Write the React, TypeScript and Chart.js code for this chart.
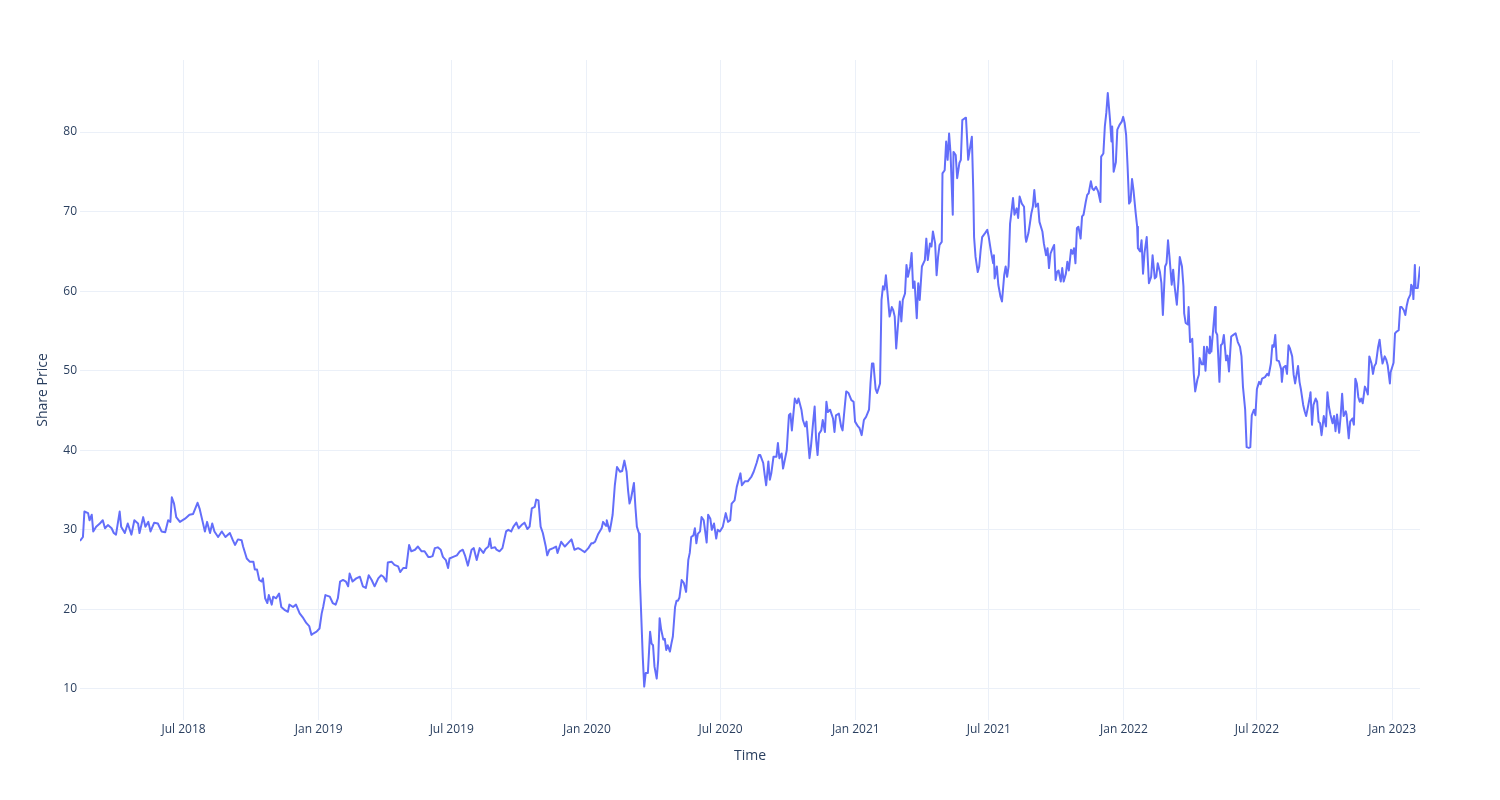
import React, { useEffect, useRef } from "react";
import { Chart, registerables } from "chart.js";

Chart.register(...registerables);

const TEXT_COLOR = "#2a3f5f";
const GRID_COLOR = "#EBF0F8";
const LINE_COLOR = "#636efa";
const FONT_FAMILY = "'Open Sans', verdana, arial, sans-serif";

const xAxisTitle = "Time";
const yAxisTitle = "Share Price";

const xTickDates = [
  "2018-07-01", "2019-01-01", "2019-07-01", "2020-01-01", "2020-07-01",
  "2021-01-01", "2021-07-01", "2022-01-01", "2022-07-01", "2023-01-01",
];
const xTickLabels = [
  "Jul 2018", "Jan 2019", "Jul 2019", "Jan 2020", "Jul 2020",
  "Jan 2021", "Jul 2021", "Jan 2022", "Jul 2022", "Jan 2023",
];
const yTickValues = [10, 20, 30, 40, 50, 60, 70, 80];
const xRange = ["2018-02-10", "2023-02-08"];
const yRange = [6.1, 89.05];

const prices2018: [string, number][] = [
  ["2018-02-10", 28.6], ["2018-02-14", 29.1], ["2018-02-16", 32.3], ["2018-02-21", 32.1], ["2018-02-23", 31.2],
  ["2018-02-26", 31.9], ["2018-02-28", 29.8], ["2018-03-04", 30.4], ["2018-03-09", 30.8], ["2018-03-13", 31.2],
  ["2018-03-16", 30.2], ["2018-03-20", 30.6], ["2018-03-25", 30.2], ["2018-03-28", 29.6], ["2018-03-31", 29.4],
  ["2018-04-05", 32.3], ["2018-04-07", 30.4], ["2018-04-12", 29.6], ["2018-04-16", 30.8], ["2018-04-21", 29.4],
  ["2018-04-25", 31.2], ["2018-04-30", 30.8], ["2018-05-02", 29.6], ["2018-05-07", 31.6], ["2018-05-10", 30.4],
  ["2018-05-14", 31.0], ["2018-05-17", 29.8], ["2018-05-22", 30.9], ["2018-05-27", 30.8], ["2018-06-01", 29.8],
  ["2018-06-06", 29.7], ["2018-06-10", 31.2], ["2018-06-13", 31.0], ["2018-06-15", 34.1], ["2018-06-18", 33.3],
  ["2018-06-21", 31.6], ["2018-06-26", 31.0], ["2018-07-03", 31.4], ["2018-07-09", 31.9], ["2018-07-14", 32.0],
  ["2018-07-20", 33.4], ["2018-07-23", 32.6], ["2018-07-27", 31.0], ["2018-07-30", 29.8], ["2018-08-02", 31.0],
  ["2018-08-06", 29.6], ["2018-08-09", 30.8], ["2018-08-12", 29.8], ["2018-08-17", 29.1], ["2018-08-22", 29.8],
  ["2018-08-27", 29.1], ["2018-09-02", 29.6], ["2018-09-06", 28.7], ["2018-09-09", 28.1], ["2018-09-13", 28.8],
  ["2018-09-18", 28.7], ["2018-09-20", 27.9], ["2018-09-25", 26.4], ["2018-09-29", 26.0], ["2018-10-04", 26.0],
  ["2018-10-06", 25.0], ["2018-10-09", 25.0], ["2018-10-12", 23.7], ["2018-10-15", 23.5], ["2018-10-17", 23.9],
  ["2018-10-20", 21.4], ["2018-10-23", 20.8], ["2018-10-25", 21.8], ["2018-10-29", 20.6], ["2018-10-31", 21.6],
  ["2018-11-04", 21.4], ["2018-11-08", 22.0], ["2018-11-11", 20.3], ["2018-11-16", 19.9], ["2018-11-20", 19.7],
  ["2018-11-22", 20.6], ["2018-11-27", 20.3], ["2018-12-01", 20.6], ["2018-12-06", 19.5], ["2018-12-11", 18.9],
  ["2018-12-15", 18.3], ["2018-12-19", 17.9], ["2018-12-22", 16.8], ["2018-12-25", 17.0], ["2018-12-29", 17.2],
];

const prices2019: [string, number][] = [
  ["2019-01-02", 17.6], ["2019-01-05", 19.5], ["2019-01-07", 20.3], ["2019-01-10", 21.8], ["2019-01-16", 21.6],
  ["2019-01-20", 20.8], ["2019-01-24", 20.6], ["2019-01-27", 21.4], ["2019-01-30", 23.5], ["2019-02-03", 23.7],
  ["2019-02-07", 23.5], ["2019-02-10", 22.9], ["2019-02-12", 24.5], ["2019-02-16", 23.5], ["2019-02-21", 23.9],
  ["2019-02-26", 24.1], ["2019-03-02", 22.9], ["2019-03-06", 22.7], ["2019-03-10", 24.3], ["2019-03-14", 23.7],
  ["2019-03-18", 22.9], ["2019-03-23", 23.9], ["2019-03-27", 24.3], ["2019-03-30", 24.1], ["2019-04-03", 23.5],
  ["2019-04-05", 25.9], ["2019-04-10", 26.0], ["2019-04-14", 25.6], ["2019-04-19", 25.4], ["2019-04-22", 24.7],
  ["2019-04-26", 25.2], ["2019-04-30", 25.2], ["2019-05-04", 28.1], ["2019-05-07", 27.3], ["2019-05-12", 27.5],
  ["2019-05-16", 27.9], ["2019-05-21", 27.3], ["2019-05-25", 27.3], ["2019-05-30", 26.6], ["2019-06-02", 26.6],
  ["2019-06-05", 26.7], ["2019-06-08", 27.7], ["2019-06-12", 27.8], ["2019-06-16", 27.5], ["2019-06-19", 26.6],
  ["2019-06-23", 26.2], ["2019-06-26", 25.2], ["2019-06-28", 26.4], ["2019-07-03", 26.6], ["2019-07-08", 26.8],
  ["2019-07-12", 27.3], ["2019-07-16", 27.5], ["2019-07-19", 26.8], ["2019-07-23", 25.5], ["2019-07-28", 27.5],
  ["2019-07-31", 27.7], ["2019-08-04", 26.2], ["2019-08-08", 27.7], ["2019-08-13", 27.1], ["2019-08-16", 27.6],
  ["2019-08-20", 27.9], ["2019-08-22", 28.9], ["2019-08-24", 27.7], ["2019-08-29", 27.8], ["2019-08-31", 27.5],
  ["2019-09-04", 27.3], ["2019-09-08", 27.7], ["2019-09-13", 29.8], ["2019-09-16", 30.0], ["2019-09-20", 29.8],
  ["2019-09-23", 30.4], ["2019-09-27", 30.9], ["2019-09-30", 30.2], ["2019-10-04", 30.6], ["2019-10-08", 30.9],
  ["2019-10-12", 30.1], ["2019-10-15", 30.4], ["2019-10-18", 32.7], ["2019-10-22", 32.9], ["2019-10-24", 33.8],
  ["2019-10-27", 33.7], ["2019-10-30", 30.4], ["2019-11-02", 29.6], ["2019-11-06", 27.9], ["2019-11-08", 26.8],
  ["2019-11-11", 27.5], ["2019-11-16", 27.7], ["2019-11-20", 27.9], ["2019-11-22", 27.1], ["2019-11-27", 28.5],
  ["2019-12-02", 27.9], ["2019-12-06", 28.3], ["2019-12-11", 28.8], ["2019-12-15", 27.5], ["2019-12-20", 27.7],
  ["2019-12-24", 27.5], ["2019-12-29", 27.2],
];

const prices2020: [string, number][] = [
  ["2020-01-03", 27.7], ["2020-01-05", 28.0], ["2020-01-07", 28.3], ["2020-01-09", 28.3], ["2020-01-12", 28.5],
  ["2020-01-16", 29.4], ["2020-01-21", 30.2], ["2020-01-23", 31.0], ["2020-01-27", 30.5], ["2020-01-28", 31.2],
  ["2020-02-01", 29.8], ["2020-02-03", 30.8], ["2020-02-05", 31.9], ["2020-02-08", 35.6], ["2020-02-11", 37.9],
  ["2020-02-15", 37.3], ["2020-02-18", 37.4], ["2020-02-21", 38.7], ["2020-02-24", 37.3], ["2020-02-26", 35.0],
  ["2020-02-28", 33.3], ["2020-03-01", 33.9], ["2020-03-05", 35.9], ["2020-03-07", 32.9], ["2020-03-09", 30.4],
  ["2020-03-12", 29.5], ["2020-03-13", 24.1], ["2020-03-15", 19.1], ["2020-03-17", 14.1], ["2020-03-19", 10.3],
  ["2020-03-21", 12.0], ["2020-03-24", 12.0], ["2020-03-27", 17.2], ["2020-03-29", 15.7], ["2020-03-31", 15.5],
  ["2020-04-02", 12.8], ["2020-04-05", 11.3], ["2020-04-07", 13.6], ["2020-04-09", 18.9], ["2020-04-11", 17.5],
  ["2020-04-14", 16.2], ["2020-04-16", 16.3], ["2020-04-18", 14.9], ["2020-04-20", 15.5], ["2020-04-23", 14.7],
  ["2020-04-25", 15.7], ["2020-04-27", 16.6], ["2020-04-30", 20.3], ["2020-05-02", 21.1], ["2020-05-04", 21.1],
  ["2020-05-06", 21.5], ["2020-05-09", 23.7], ["2020-05-12", 23.3], ["2020-05-15", 22.2], ["2020-05-18", 26.2],
  ["2020-05-20", 27.1], ["2020-05-22", 29.1], ["2020-05-25", 29.3], ["2020-05-27", 30.2], ["2020-05-29", 28.3],
  ["2020-05-31", 29.5], ["2020-06-03", 29.8], ["2020-06-05", 31.6], ["2020-06-08", 31.2], ["2020-06-12", 28.4],
  ["2020-06-14", 31.9], ["2020-06-17", 31.4], ["2020-06-19", 30.0], ["2020-06-22", 30.8], ["2020-06-25", 28.9],
  ["2020-06-27", 30.0], ["2020-06-30", 29.8], ["2020-07-04", 30.4], ["2020-07-08", 32.1], ["2020-07-11", 31.0],
  ["2020-07-14", 31.2], ["2020-07-16", 33.3], ["2020-07-20", 33.7], ["2020-07-23", 35.4], ["2020-07-25", 36.1],
  ["2020-07-28", 37.1], ["2020-07-30", 35.6], ["2020-08-03", 36.1], ["2020-08-07", 36.1], ["2020-08-12", 36.7],
  ["2020-08-15", 37.3], ["2020-08-19", 38.4], ["2020-08-22", 39.4], ["2020-08-24", 39.4], ["2020-08-28", 38.4],
  ["2020-08-30", 36.9], ["2020-09-01", 35.6], ["2020-09-04", 38.6], ["2020-09-06", 36.3], ["2020-09-08", 37.1],
  ["2020-09-11", 39.2], ["2020-09-15", 39.2], ["2020-09-17", 40.9], ["2020-09-19", 39.0], ["2020-09-22", 39.6],
  ["2020-09-24", 37.7], ["2020-09-26", 38.6], ["2020-09-29", 40.0], ["2020-10-02", 44.4], ["2020-10-04", 44.6],
  ["2020-10-06", 42.5], ["2020-10-10", 46.5], ["2020-10-13", 45.9], ["2020-10-15", 46.5], ["2020-10-19", 45.1],
  ["2020-10-21", 43.8], ["2020-10-24", 43.0], ["2020-10-26", 43.6], ["2020-10-28", 41.3], ["2020-10-30", 39.0],
  ["2020-11-01", 40.5], ["2020-11-04", 43.6], ["2020-11-06", 45.5], ["2020-11-08", 41.3], ["2020-11-10", 39.4],
  ["2020-11-12", 42.1], ["2020-11-15", 42.5], ["2020-11-17", 43.8], ["2020-11-20", 42.3], ["2020-11-22", 46.1],
  ["2020-11-24", 44.8], ["2020-11-27", 45.1], ["2020-12-01", 44.0], ["2020-12-03", 42.3], ["2020-12-05", 44.4],
  ["2020-12-09", 44.6], ["2020-12-12", 43.0], ["2020-12-14", 42.5], ["2020-12-17", 45.5], ["2020-12-19", 47.4],
  ["2020-12-22", 47.2], ["2020-12-26", 46.3], ["2020-12-29", 46.1], ["2020-12-31", 43.6],
];

const prices2021: [string, number][] = [
  ["2021-01-04", 43.0], ["2021-01-06", 42.8], ["2021-01-09", 41.9], ["2021-01-12", 43.8], ["2021-01-15", 44.2],
  ["2021-01-19", 45.1], ["2021-01-21", 48.4], ["2021-01-23", 50.9], ["2021-01-25", 50.9], ["2021-01-28", 47.7],
  ["2021-01-30", 47.2], ["2021-02-03", 48.4], ["2021-02-05", 58.9], ["2021-02-07", 60.6], ["2021-02-09", 60.2],
  ["2021-02-11", 62.0], ["2021-02-14", 58.9], ["2021-02-16", 56.8], ["2021-02-19", 58.0], ["2021-02-21", 57.6],
  ["2021-02-23", 56.8], ["2021-02-25", 52.8], ["2021-02-28", 56.4], ["2021-03-02", 58.7], ["2021-03-04", 56.2],
  ["2021-03-06", 58.9], ["2021-03-09", 59.7], ["2021-03-11", 63.3], ["2021-03-13", 61.8], ["2021-03-16", 63.1],
  ["2021-03-18", 64.8], ["2021-03-20", 60.4], ["2021-03-22", 61.2], ["2021-03-25", 56.6], ["2021-03-27", 61.0],
  ["2021-03-29", 58.9], ["2021-04-01", 63.1], ["2021-04-05", 63.9], ["2021-04-07", 66.6], ["2021-04-09", 63.9],
  ["2021-04-12", 66.0], ["2021-04-14", 65.6], ["2021-04-16", 67.5], ["2021-04-19", 66.0], ["2021-04-21", 62.0],
  ["2021-04-23", 64.3], ["2021-04-25", 65.8], ["2021-04-28", 66.2], ["2021-04-29", 74.8], ["2021-05-02", 75.2],
  ["2021-05-04", 78.8], ["2021-05-06", 76.5], ["2021-05-08", 79.8], ["2021-05-10", 77.3], ["2021-05-13", 69.6],
  ["2021-05-14", 77.5], ["2021-05-17", 77.1], ["2021-05-19", 74.2], ["2021-05-22", 76.1], ["2021-05-24", 76.5],
  ["2021-05-26", 81.5], ["2021-05-29", 81.7], ["2021-05-31", 81.8], ["2021-06-03", 76.5], ["2021-06-05", 77.7],
  ["2021-06-08", 79.4], ["2021-06-10", 72.3], ["2021-06-11", 66.8], ["2021-06-13", 64.3], ["2021-06-16", 62.4],
  ["2021-06-18", 63.1], ["2021-06-20", 65.2], ["2021-06-22", 66.8], ["2021-06-26", 67.3], ["2021-06-29", 67.7],
  ["2021-07-01", 66.8], ["2021-07-04", 65.0], ["2021-07-07", 63.5], ["2021-07-08", 64.5], ["2021-07-09", 61.6],
  ["2021-07-12", 63.1], ["2021-07-14", 60.8], ["2021-07-17", 59.3], ["2021-07-19", 58.7], ["2021-07-22", 62.0],
  ["2021-07-24", 63.1], ["2021-07-26", 61.8], ["2021-07-28", 63.1], ["2021-07-30", 68.5], ["2021-08-01", 70.0],
  ["2021-08-03", 71.7], ["2021-08-05", 69.6], ["2021-08-08", 70.4], ["2021-08-10", 69.2], ["2021-08-12", 71.9],
  ["2021-08-15", 71.0], ["2021-08-18", 70.6], ["2021-08-20", 66.8], ["2021-08-21", 66.2], ["2021-08-24", 67.3],
  ["2021-08-26", 68.5], ["2021-08-28", 69.8], ["2021-08-30", 70.6], ["2021-09-01", 72.7], ["2021-09-03", 70.6],
  ["2021-09-06", 71.0], ["2021-09-08", 68.7], ["2021-09-12", 67.5], ["2021-09-14", 66.0], ["2021-09-17", 64.5],
  ["2021-09-19", 65.4], ["2021-09-21", 62.9], ["2021-09-23", 64.7], ["2021-09-26", 65.4], ["2021-09-28", 65.8],
  ["2021-09-30", 61.4], ["2021-10-02", 62.4], ["2021-10-04", 62.6], ["2021-10-07", 61.2], ["2021-10-09", 62.9],
  ["2021-10-11", 61.2], ["2021-10-14", 62.2], ["2021-10-16", 63.7], ["2021-10-18", 62.6], ["2021-10-21", 65.2],
  ["2021-10-23", 64.7], ["2021-10-25", 65.4], ["2021-10-27", 63.5], ["2021-10-29", 67.9], ["2021-10-31", 68.1],
  ["2021-11-03", 66.6], ["2021-11-05", 69.4], ["2021-11-07", 69.6], ["2021-11-10", 71.2], ["2021-11-12", 72.1],
  ["2021-11-14", 72.3], ["2021-11-17", 73.8], ["2021-11-19", 72.9], ["2021-11-21", 72.7], ["2021-11-24", 73.1],
  ["2021-11-27", 72.5], ["2021-11-30", 71.2], ["2021-12-01", 76.9], ["2021-12-04", 77.3], ["2021-12-06", 80.7],
  ["2021-12-08", 82.4], ["2021-12-10", 84.9], ["2021-12-13", 81.6], ["2021-12-15", 78.8], ["2021-12-16", 80.7],
  ["2021-12-18", 75.0], ["2021-12-21", 76.2], ["2021-12-23", 80.3], ["2021-12-26", 80.9], ["2021-12-29", 81.3],
  ["2021-12-31", 81.9],
];

const prices2022: [string, number][] = [
  ["2022-01-02", 81.1], ["2022-01-04", 79.6], ["2022-01-06", 75.6], ["2022-01-08", 71.0], ["2022-01-10", 71.3],
  ["2022-01-12", 74.1], ["2022-01-14", 72.7], ["2022-01-17", 69.8], ["2022-01-19", 68.1], ["2022-01-20", 65.4],
  ["2022-01-23", 65.0], ["2022-01-25", 66.4], ["2022-01-27", 62.2], ["2022-01-29", 64.8], ["2022-02-01", 66.8],
  ["2022-02-04", 61.0], ["2022-02-07", 61.8], ["2022-02-09", 64.5], ["2022-02-12", 61.6], ["2022-02-14", 61.8],
  ["2022-02-16", 63.5], ["2022-02-19", 62.4], ["2022-02-21", 61.0], ["2022-02-23", 57.0], ["2022-02-26", 63.1],
  ["2022-02-28", 63.5], ["2022-03-02", 66.4], ["2022-03-04", 64.3], ["2022-03-07", 60.8], ["2022-03-09", 62.7],
  ["2022-03-11", 60.6], ["2022-03-14", 58.3], ["2022-03-16", 61.0], ["2022-03-18", 64.3], ["2022-03-21", 63.1],
  ["2022-03-23", 60.6], ["2022-03-24", 57.2], ["2022-03-26", 56.0], ["2022-03-29", 55.8], ["2022-03-30", 58.0],
  ["2022-04-01", 53.6], ["2022-04-04", 54.0], ["2022-04-06", 49.7], ["2022-04-08", 47.4], ["2022-04-11", 48.9],
  ["2022-04-13", 49.5], ["2022-04-14", 51.6], ["2022-04-17", 50.8], ["2022-04-19", 50.8], ["2022-04-20", 53.0],
  ["2022-04-22", 50.0], ["2022-04-24", 53.0], ["2022-04-27", 52.2], ["2022-04-28", 54.3], ["2022-04-30", 52.4],
  ["2022-05-02", 54.7], ["2022-05-05", 58.0], ["2022-05-06", 54.9], ["2022-05-08", 54.5], ["2022-05-11", 48.6],
  ["2022-05-13", 53.2], ["2022-05-15", 53.4], ["2022-05-17", 54.5], ["2022-05-20", 51.3], ["2022-05-22", 51.9],
  ["2022-05-24", 49.9], ["2022-05-27", 54.3], ["2022-05-30", 54.5], ["2022-06-02", 54.7], ["2022-06-05", 53.6],
  ["2022-06-08", 53.0], ["2022-06-10", 51.8], ["2022-06-12", 48.0], ["2022-06-15", 45.1], ["2022-06-16", 45.1],
  ["2022-06-17", 40.4], ["2022-06-20", 40.3], ["2022-06-22", 40.4], ["2022-06-24", 44.4], ["2022-06-27", 45.1],
  ["2022-06-29", 44.4], ["2022-07-01", 47.7], ["2022-07-04", 48.6], ["2022-07-06", 48.3], ["2022-07-08", 49.0],
  ["2022-07-12", 49.2], ["2022-07-15", 49.6], ["2022-07-17", 49.4], ["2022-07-20", 50.9], ["2022-07-22", 53.2],
  ["2022-07-24", 53.0], ["2022-07-26", 54.5], ["2022-07-28", 51.3], ["2022-07-31", 51.2], ["2022-08-03", 50.2],
  ["2022-08-04", 48.6], ["2022-08-06", 50.4], ["2022-08-09", 50.6], ["2022-08-11", 49.6], ["2022-08-13", 53.2],
  ["2022-08-15", 52.8], ["2022-08-18", 51.8], ["2022-08-20", 49.5], ["2022-08-22", 48.4], ["2022-08-24", 49.5],
  ["2022-08-26", 50.6], ["2022-08-28", 48.6], ["2022-08-30", 47.6], ["2022-09-02", 45.7], ["2022-09-04", 44.9],
  ["2022-09-06", 44.3], ["2022-09-08", 45.2], ["2022-09-11", 46.7], ["2022-09-12", 47.3], ["2022-09-14", 43.2],
  ["2022-09-16", 45.7], ["2022-09-19", 46.5], ["2022-09-21", 46.1], ["2022-09-23", 43.6], ["2022-09-25", 43.4],
  ["2022-09-27", 41.9], ["2022-09-30", 44.3], ["2022-10-03", 43.0], ["2022-10-05", 47.3], ["2022-10-07", 45.5],
  ["2022-10-09", 44.5], ["2022-10-12", 43.4], ["2022-10-14", 44.3], ["2022-10-16", 42.4], ["2022-10-18", 44.5],
  ["2022-10-21", 42.2], ["2022-10-23", 44.3], ["2022-10-25", 47.1], ["2022-10-27", 44.3], ["2022-10-30", 44.9],
  ["2022-10-31", 44.5], ["2022-11-03", 41.5], ["2022-11-05", 43.6], ["2022-11-08", 44.0], ["2022-11-10", 43.2],
  ["2022-11-12", 49.0], ["2022-11-14", 48.4], ["2022-11-16", 46.7], ["2022-11-18", 46.1], ["2022-11-20", 46.5],
  ["2022-11-22", 45.9], ["2022-11-25", 48.0], ["2022-11-27", 47.6], ["2022-11-29", 47.0], ["2022-12-01", 51.8],
  ["2022-12-04", 50.9], ["2022-12-06", 49.6], ["2022-12-08", 50.6], ["2022-12-10", 50.9], ["2022-12-13", 53.0],
  ["2022-12-15", 53.9], ["2022-12-17", 52.2], ["2022-12-19", 50.9], ["2022-12-22", 51.8], ["2022-12-24", 51.4],
  ["2022-12-26", 50.7], ["2022-12-29", 48.4], ["2022-12-30", 49.8],
];

const prices2023: [string, number][] = [
  ["2023-01-01", 50.4], ["2023-01-03", 51.0], ["2023-01-05", 54.7], ["2023-01-07", 54.9], ["2023-01-10", 55.1],
  ["2023-01-12", 58.0], ["2023-01-14", 58.0], ["2023-01-17", 57.6], ["2023-01-19", 57.0], ["2023-01-21", 58.2],
  ["2023-01-23", 59.0], ["2023-01-26", 59.6], ["2023-01-27", 60.8], ["2023-01-29", 60.5], ["2023-01-30", 59.0],
  ["2023-02-01", 63.3], ["2023-02-02", 60.4], ["2023-02-05", 60.4], ["2023-02-08", 63.1],
];

const toTime = (d: string) => Date.parse(d + "T00:00:00Z");

export default function App() {
  const canvasRef = useRef<HTMLCanvasElement | null>(null);

  useEffect(() => {
    if (!canvasRef.current) return;
    const series = [...prices2018, ...prices2019, ...prices2020, ...prices2021, ...prices2022, ...prices2023];
    const points = series.map(([d, v]) => ({ x: toTime(d), y: v }));
    const xTickValues = xTickDates.map(toTime);
    const labelFor = new Map<number, string>();
    xTickValues.forEach((v, i) => labelFor.set(v, xTickLabels[i]));

    const chart = new Chart(canvasRef.current, {
      type: "line",
      data: {
        datasets: [
          {
            data: points,
            borderColor: LINE_COLOR,
            backgroundColor: LINE_COLOR,
            borderWidth: 2,
            pointRadius: 0,
            pointHoverRadius: 0,
            fill: false,
            tension: 0,
            borderJoinStyle: "round",
          },
        ],
      },
      options: {
        responsive: false,
        animation: false,
        devicePixelRatio: 1,
        layout: { padding: { top: 60, right: 80, left: 0, bottom: 0 } },
        plugins: { legend: { display: false }, tooltip: { enabled: false } },
        scales: {
          x: {
            type: "linear",
            bounds: "data",
            min: toTime(xRange[0]),
            max: toTime(xRange[1]),
            afterBuildTicks: (scale: any) => {
              scale.ticks = xTickValues.map((value) => ({ value }));
            },
            afterFit: (scale: any) => {
              scale.height = 80;
            },
            grid: { color: GRID_COLOR, lineWidth: 1, drawTicks: false },
            border: { display: false },
            ticks: {
              autoSkip: false,
              maxRotation: 0,
              minRotation: 0,
              padding: 2,
              color: TEXT_COLOR,
              font: { family: FONT_FAMILY, size: 12 },
              callback: (value: any) => labelFor.get(Number(value)) ?? "",
            },
            title: {
              display: true,
              text: xAxisTitle,
              color: TEXT_COLOR,
              font: { family: FONT_FAMILY, size: 14 },
              padding: { top: 0, bottom: 35.6 },
            },
          },
          y: {
            type: "linear",
            bounds: "data",
            min: yRange[0],
            max: yRange[1],
            afterBuildTicks: (scale: any) => {
              scale.ticks = yTickValues.map((value) => ({ value }));
            },
            afterFit: (scale: any) => {
              scale.width = 80;
            },
            grid: { color: GRID_COLOR, lineWidth: 1, drawTicks: false },
            border: { display: false },
            ticks: {
              padding: 3,
              color: TEXT_COLOR,
              font: { family: FONT_FAMILY, size: 12 },
              callback: (value: any) => String(value),
            },
            title: {
              display: true,
              text: yAxisTitle,
              color: TEXT_COLOR,
              font: { family: FONT_FAMILY, size: 14 },
              padding: { top: 34.6, bottom: 0 },
            },
          },
        },
      },
    });
    return () => chart.destroy();
  }, []);

  return (
    <div style={{ position: "absolute", left: 0, top: 0, width: 1500, height: 800, background: "#fff" }}>
      <canvas ref={canvasRef} width={1500} height={800} style={{ width: 1500, height: 800 }} />
    </div>
  );
}
